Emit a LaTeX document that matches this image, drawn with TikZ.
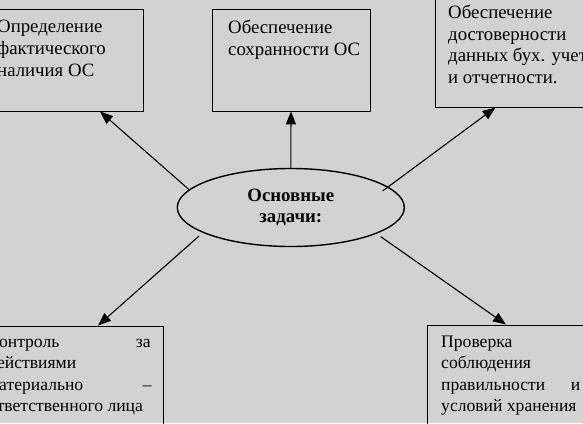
\documentclass[tikz,border=0pt]{standalone}
\usepackage{fontspec}
\setmainfont{Liberation Serif}
\usetikzlibrary{arrows.meta,shapes.geometric}
\definecolor{bg}{RGB}{210,210,210}
\begin{document}
\begin{tikzpicture}[x=1pt,y=-1pt,
  box/.style={draw=black,line width=0.9pt,inner sep=0pt},
  txt/.style={anchor=base west,inner sep=0pt,font=\fontsize{18.8}{21.5}\selectfont},
  stxt/.style={anchor=base west,inner sep=0pt,font=\fontsize{17.6}{21}\selectfont},
  arr/.style={line width=1.1pt,-{Triangle[length=13pt,width=10pt]}}]
\useasboundingbox (0,0) rectangle (583,423);
\fill[bg] (0,0) rectangle (583,423);
\clip (0,0) rectangle (583,423);
% boxes
\node[box,minimum width=153pt,minimum height=102pt] (b1) at (66.5,60) {};
\node[box,minimum width=158pt,minimum height=102pt] (b2) at (291,60) {};
\node[box,minimum width=165pt,minimum height=117pt] (b3) at (517.5,48.5) {};
\node[box,minimum width=173pt,minimum height=114pt] (b4) at (76.5,383) {};
\node[box,minimum width=173pt,minimum height=115pt] (b5) at (513.5,382.5) {};
% ellipse
\node[ellipse,draw=black,line width=1.4pt,minimum width=227pt,minimum height=78pt,inner sep=0pt,
      align=center,font=\fontsize{18.8}{21.5}\selectfont\bfseries] (ell) at (290.8,207.5) {Основные\\задачи:};
% texts
\node[txt] (t1a) at (-3,32.7) {Определение};
\node[txt] (t1b) at (-3,54.5) {фактического};
\node[txt] (t1c) at (-3,76) {наличия ОС};
\node[txt] (t2a) at (228,33) {Обеспечение};
\node[txt] (t2b) at (228,55) {сохранности ОС};
\node[txt] (t3a) at (448,18.3) {Обеспечение};
\node[txt] (t3b) at (448,40) {достоверности};
\node[txt] (t3c) at (448,61.5) {данных бух. учета};
\node[txt] (t3d) at (448,83.3) {и отчетности.};
\node[stxt] (t4a) at (-12,347.7) {\makebox[162.5pt][s]{Контроль за}};
\node[stxt] (t4b) at (-12,368.5) {действиями};
\node[stxt] (t4c) at (-12,390) {\makebox[163.5pt][s]{материально –}};
\node[stxt] (t4d) at (-12,411) {ответственного лица};
\node[stxt] (t5a) at (441,347.7) {Проверка};
\node[stxt] (t5b) at (441,368.5) {соблюдения};
\node[stxt] (t5c) at (441,390) {\makebox[139pt][s]{правильности и}};
\node[stxt] (t5d) at (441,411) {условий хранения};
% arrows
\draw[arr] (ell.170) -- ([xshift=33.5pt]b1.south);
\draw[arr] (ell.north) -- (b2.south);
\draw[arr,shorten <=-7pt] (ell.12.6) -- ([xshift=-22pt]b3.south);
\draw[arr,shorten <=5pt] (ell.196.3) -- ([xshift=21.5pt]b4.north);
\draw[arr,shorten <=5pt] (ell.343.5) -- ([xshift=-7.5pt]b5.north);
\end{tikzpicture}
\end{document}
